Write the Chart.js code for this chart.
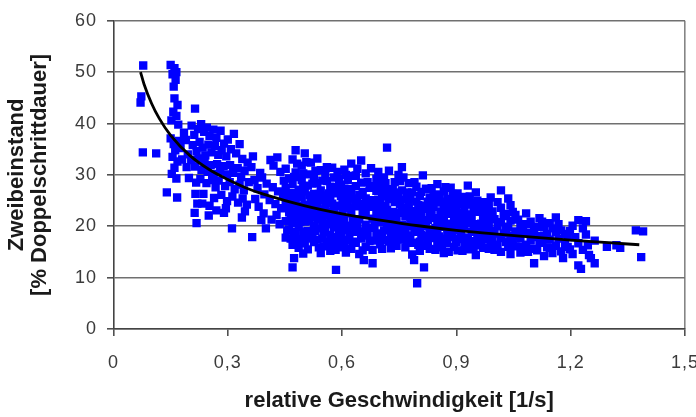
<!DOCTYPE html>
<html lang="de">
<head>
<meta charset="utf-8">
<title>Zweibeinstand vs. relative Geschwindigkeit</title>
<script src="https://cdn.jsdelivr.net/npm/chart.js@4/dist/chart.umd.min.js"></script>
<style>
  html, body { margin: 0; padding: 0; background: #fff; }
  #wrap { width: 696px; height: 417px; }
</style>
</head>
<body>
<div id="wrap"><canvas id="c" width="696" height="417"></canvas></div>
<script>
// Measured steps: [relative speed (1/s), double-support time (% of stride)]
const slowSteps = [
  [0.078,51.3],[0.071,44.1],[0.073,45.3],[0.077,34.4],[0.112,34.2],
  [0.150,51.4],[0.160,50.8],[0.155,49.6],[0.163,48.5],[0.158,47.2],[0.165,50.0],
  [0.160,44.9],[0.168,43.6],[0.157,42.3],[0.165,41.5],[0.152,40.6],[0.170,39.8],
  [0.214,42.9],
  [0.150,37.1],[0.158,36.0],[0.162,34.8],[0.155,33.5],[0.168,32.6],[0.160,31.4],
  [0.153,30.2],[0.165,29.3],[0.172,36.6],[0.176,35.2],[0.180,33.0],
  [0.140,26.6],[0.167,25.6],
  [0.185,38.2],[0.190,36.8],[0.195,34.0],[0.192,31.5],[0.198,29.4],
  [0.217,28.5],[0.215,26.3],[0.220,24.4],[0.213,22.6],[0.218,20.6],[0.250,22.1]
];

const lowSpeedCluster = [
  [0.205,39.6],[0.212,37.8],[0.222,38.9],[0.230,39.9],[0.238,38.4],[0.245,39.2],
  [0.252,37.6],[0.262,38.8],[0.270,37.2],[0.281,38.6],[0.316,38.0],[0.300,36.9],[0.290,36.1],
  [0.208,35.8],[0.218,34.6],[0.226,36.4],[0.234,35.3],[0.241,33.8],[0.249,35.9],
  [0.257,34.4],[0.266,35.6],[0.275,33.9],[0.284,34.8],[0.296,33.6],[0.308,35.0],
  [0.322,34.2],[0.331,36.0],[0.338,33.1],
  [0.204,32.9],[0.214,31.6],[0.223,33.2],[0.231,31.0],[0.239,32.3],[0.247,30.6],
  [0.255,31.9],[0.263,30.2],[0.272,32.1],[0.280,30.8],[0.289,31.7],[0.298,30.1],
  [0.306,31.9],[0.314,30.4],[0.326,31.3],[0.335,29.6],[0.344,30.8],[0.352,32.4],
  [0.228,29.2],[0.244,28.4],[0.259,29.0],[0.268,27.6],[0.276,28.9],[0.293,27.8],
  [0.305,28.6],[0.318,27.2],[0.331,28.1],[0.342,27.0],[0.355,28.6],
  [0.236,26.3],[0.264,25.5],[0.283,26.1],[0.298,24.9],[0.312,25.8],[0.327,24.6],
  [0.339,25.4],[0.350,24.2],
  [0.233,24.4],[0.252,24.0],[0.295,23.5],[0.290,22.6],[0.311,19.6],[0.337,21.7],
  [0.345,22.9],[0.364,17.9],[0.270,23.1]
];

const transitionSteps = [
  [0.362,31.5],[0.370,29.0],[0.378,27.4],[0.385,30.4],[0.390,29.5],[0.396,26.2],
  [0.402,28.3],[0.410,25.1],[0.418,27.6],[0.425,24.3],[0.432,26.8],[0.440,23.5],
  [0.447,28.9],[0.372,25.3],[0.381,23.8],[0.394,22.5],[0.400,19.6],[0.415,21.3],
  [0.428,22.2],[0.436,20.4],[0.445,25.9],[0.430,33.4],[0.438,30.6],[0.420,31.8],
  [0.366,33.6],[0.388,21.2],[0.412,32.9]
];

const midSpeedSteps = [
  [0.452,31.2],[0.452,27.4],[0.452,24.1],[0.452,21.0],[0.452,17.8],
  [0.461,29.3],[0.461,25.6],[0.461,22.7],[0.461,19.4],
  [0.470,33.0],[0.470,28.2],[0.470,26.5],[0.470,23.4],[0.470,20.6],[0.470,16.4],[0.470,12.0],
  [0.474,13.8],
  [0.478,34.8],[0.478,30.5],[0.478,24.8],[0.478,21.9],[0.478,18.7],
  [0.486,27.1],[0.486,23.0],[0.486,19.9],[0.486,15.8],
  [0.494,31.8],[0.494,29.0],[0.494,25.7],[0.494,22.3],[0.494,17.5],
  [0.502,34.2],[0.502,26.8],[0.502,24.2],[0.502,20.9],[0.502,16.7],
  [0.510,30.1],[0.510,27.9],[0.510,23.6],[0.510,19.1],[0.510,15.5],
  [0.518,32.4],[0.518,25.0],[0.518,21.8],[0.518,18.2],
  [0.526,29.6],[0.526,26.3],[0.526,22.9],[0.526,20.0],[0.526,16.9],
  [0.535,33.2],[0.535,28.4],[0.535,24.5],[0.535,21.3],[0.535,17.4],
  [0.544,30.9],[0.544,27.0],[0.544,23.3],[0.544,19.6],[0.544,14.8],
  [0.552,26.0],[0.552,22.1],[0.552,18.8],[0.552,16.1],
  [0.560,31.5],[0.560,28.8],[0.560,24.9],[0.560,20.4],[0.560,17.0],
  [0.569,27.7],[0.569,25.3],[0.569,21.6],[0.569,18.3],[0.569,15.2],
  [0.579,29.5],[0.579,26.4],[0.579,23.1],[0.579,19.8],[0.579,16.6],
  [0.584,11.5],
  [0.588,30.6],[0.588,24.0],[0.588,22.0],[0.588,17.9],
  [0.597,28.1],[0.597,25.9],[0.597,20.7],[0.597,18.5],[0.597,15.9],
  [0.606,31.0],[0.606,27.3],[0.606,23.7],[0.606,21.2],[0.606,16.3],
  [0.615,29.0],[0.615,24.6],[0.615,19.3],[0.615,17.2],
  [0.624,32.2],[0.624,26.7],[0.624,22.5],[0.624,20.1],[0.624,15.6],
  [0.636,29.9],[0.636,27.8],[0.636,23.9],[0.636,18.9],[0.636,16.8],
  [0.645,26.1],[0.645,21.4],[0.645,19.0],[0.645,14.6],
  [0.650,32.8],[0.650,28.5],[0.650,24.3],[0.650,17.6],
  [0.657,13.4],
  [0.662,30.3],[0.662,25.4],[0.662,22.2],[0.662,20.3],[0.662,16.0],
  [0.672,27.5],[0.672,23.8],[0.672,19.7],[0.672,17.1],
  [0.676,31.3],
  [0.680,12.8],[0.680,25.1],[0.680,21.5],[0.680,15.4],
  [0.690,29.2],[0.690,26.9],[0.690,22.8],[0.690,18.6],
  [0.700,28.0],[0.700,24.4],[0.700,20.8],[0.700,16.5],
  [0.710,29.5],[0.710,25.8],[0.710,22.4],[0.710,19.2],[0.710,17.3],
  [0.718,35.3],[0.718,27.2],[0.718,23.2],[0.718,20.5],
  [0.728,15.7],[0.728,26.2],[0.728,21.7],[0.728,18.4],
  [0.738,28.6],[0.738,24.7],[0.738,19.5],[0.738,16.9],
  [0.748,30.0],[0.748,25.5],[0.748,22.6],[0.748,18.0]
];

const fastSteps = [
  [0.757,31.5],[0.757,27.0],[0.757,23.6],[0.757,20.2],[0.757,17.4],
  [0.766,25.2],[0.766,21.9],[0.766,19.0],[0.766,15.9],
  [0.775,28.4],[0.775,24.3],[0.775,22.1],[0.775,18.2],
  [0.784,26.6],[0.784,23.0],[0.784,20.6],[0.784,16.8],[0.784,14.5],
  [0.789,13.4],[0.797,8.9],
  [0.795,27.7],[0.795,24.8],[0.795,21.4],[0.795,18.9],
  [0.804,25.9],[0.804,22.7],[0.804,19.6],[0.804,17.0],[0.804,15.2],
  [0.812,29.9],[0.812,24.0],[0.812,21.1],
  [0.815,12.0],
  [0.820,27.3],[0.820,23.4],[0.820,20.0],[0.820,18.1],[0.820,16.2],
  [0.830,25.6],[0.830,22.0],[0.830,19.3],[0.830,15.6],
  [0.840,26.0],[0.840,23.8],[0.840,21.6],[0.840,17.7],
  [0.850,28.2],[0.850,24.6],[0.850,20.9],[0.850,18.6],[0.850,16.4],
  [0.858,22.9],[0.858,19.9],[0.858,17.2],
  [0.867,26.8],[0.867,24.1],[0.867,21.3],[0.867,14.8],
  [0.876,25.3],[0.876,22.4],[0.876,18.8],[0.876,16.7],
  [0.885,27.5],[0.885,23.7],[0.885,20.5],[0.885,17.9],
  [0.894,24.9],[0.894,21.8],[0.894,19.5],[0.894,16.0],
  [0.903,26.4],[0.903,22.6],[0.903,20.2],[0.903,17.5],[0.903,15.3],
  [0.912,24.2],[0.912,21.0],[0.912,18.4],
  [0.921,25.7],[0.921,23.1],[0.921,19.7],[0.921,16.6],
  [0.930,27.9],[0.930,22.3],[0.930,20.7],[0.930,17.8],[0.930,15.5],
  [0.940,24.5],[0.940,21.5],[0.940,18.9],
  [0.951,26.6],[0.951,23.5],[0.951,20.4],[0.951,17.1],[0.951,14.4],
  [0.960,22.8],[0.960,19.4],[0.960,16.3],
  [0.970,24.7],[0.970,21.2],[0.970,18.3],[0.970,15.8],
  [0.980,23.3],[0.980,20.0],[0.980,17.4],
  [0.990,25.6],[0.990,22.0],[0.990,19.1],[0.990,16.5],
  [1.000,21.4],[1.000,18.6],[1.000,15.4],
  [1.017,27.0],[1.017,23.6],[1.017,20.8],[1.017,17.7],[1.017,15.0],
  [1.030,22.4],[1.030,19.6],[1.030,16.9],
  [1.042,24.1],[1.042,21.1],[1.042,18.2],[1.042,14.6]
];

const denseCore = [
  [0.456,26.0],[0.456,19.2],[0.465,24.4],[0.465,21.4],[0.465,17.6],
  [0.474,29.6],[0.474,22.5],[0.474,18.9],[0.482,32.2],[0.482,26.0],[0.482,17.2],
  [0.490,24.0],[0.490,20.8],[0.498,30.3],[0.498,27.8],[0.498,19.0],[0.498,14.7],
  [0.506,32.5],[0.506,22.4],[0.506,17.9],[0.514,26.0],[0.514,21.0],
  [0.522,28.3],[0.522,24.1],[0.522,17.6],[0.530,30.8],[0.530,25.5],[0.530,19.1],
  [0.539,26.3],[0.539,22.6],[0.539,15.9],[0.548,28.9],[0.548,25.1],[0.548,20.6],[0.548,17.6],
  [0.556,30.1],[0.556,23.5],[0.556,19.5],[0.565,26.4],[0.565,22.8],[0.565,16.5],
  [0.574,31.4],[0.574,24.4],[0.574,20.5],[0.574,17.8],[0.583,27.6],[0.583,21.2],[0.583,15.4],
  [0.592,29.2],[0.592,26.8],[0.592,19.3],[0.592,16.8],[0.601,24.7],[0.601,22.4],[0.601,17.3],
  [0.610,30.0],[0.610,25.8],[0.610,20.0],[0.610,14.9],[0.619,27.2],[0.619,23.5],[0.619,18.3],
  [0.629,29.8],[0.629,25.4],[0.629,21.3],[0.629,17.0],[0.640,31.2],[0.640,24.6],[0.640,20.4],
  [0.654,26.7],[0.654,22.9],[0.654,18.7],[0.654,15.3],[0.667,28.6],[0.667,24.3],[0.667,18.2],
  [0.685,27.8],[0.685,23.8],[0.685,20.0],[0.685,17.2],[0.695,30.6],[0.695,25.2],[0.695,21.6],
  [0.705,26.6],[0.705,23.5],[0.705,18.0],[0.705,15.6],[0.714,28.4],[0.714,24.0],[0.714,21.3],
  [0.723,30.8],[0.723,25.3],[0.723,19.6],[0.723,17.0],[0.733,27.2],[0.733,22.8],[0.733,20.6],
  [0.743,26.6],[0.743,21.0],[0.743,16.2],[0.752,28.8],[0.752,24.2],[0.752,19.4],
  [0.761,29.5],[0.761,22.8],[0.761,18.3],[0.770,26.6],[0.770,23.1],[0.770,20.0],[0.770,16.9],
  [0.779,25.4],[0.779,21.2],[0.779,17.4],[0.790,28.6],[0.790,22.7],[0.790,19.7],
  [0.800,24.1],[0.800,20.8],[0.800,16.4],[0.808,26.7],[0.808,22.6],[0.808,18.3],
  [0.825,24.8],[0.825,21.2],[0.825,17.0],[0.835,27.4],[0.835,23.2],[0.835,18.6],
  [0.845,25.3],[0.845,19.7],[0.845,15.4],[0.854,26.2],[0.854,21.6],[0.854,18.0],
  [0.862,24.8],[0.862,20.4],[0.862,15.9],[0.871,27.6],[0.871,22.9],[0.871,17.6],
  [0.880,24.2],[0.880,19.8],[0.880,15.0],[0.890,26.3],[0.890,22.6],[0.890,18.5],
  [0.899,23.8],[0.899,20.9],[0.899,16.9],[0.908,25.6],[0.908,19.3],
  [0.916,22.1],[0.916,17.8],[0.916,15.2],[0.925,24.2],[0.925,20.6],
  [0.935,25.8],[0.935,21.9],[0.935,16.7],[0.945,23.0],[0.945,19.9],[0.945,15.9],
  [0.955,25.0],[0.955,18.6],[0.965,23.8],[0.965,20.5],[0.965,17.1],
  [0.975,22.0],[0.975,18.8],[0.985,24.2],[0.985,20.6],[0.985,15.6],
  [0.995,22.9],[0.995,17.8],[1.008,24.7],[1.008,20.0],[1.008,16.4],
  [1.024,22.0],[1.024,18.6],[1.036,25.4],[1.036,19.9],[1.036,16.0],
  [1.048,22.8],[1.048,17.4]
];

const fastestSteps = [
  [1.055,22.2],[1.055,19.0],[1.055,16.1],
  [1.062,21.3],[1.062,18.2],
  [1.068,20.4],[1.068,17.6],[1.068,14.9],
  [1.075,19.6],[1.075,16.0],
  [1.083,22.5],[1.083,18.7],[1.083,16.4],
  [1.088,20.4],[1.088,15.0],
  [1.095,20.9],[1.095,17.2],
  [1.100,17.9],
  [1.104,12.8],[1.104,19.5],[1.104,15.6],
  [1.112,19.9],[1.112,15.3],
  [1.118,21.6],[1.118,18.1],[1.118,16.8],
  [1.125,20.9],[1.125,17.0],
  [1.130,19.8],[1.130,14.2],
  [1.138,18.5],[1.138,15.9],
  [1.145,20.6],[1.145,17.4],[1.145,15.8],
  [1.152,19.6],[1.152,14.8],
  [1.161,21.7],[1.161,18.9],[1.161,16.2],
  [1.168,17.6],[1.168,20.4],
  [1.175,19.2],[1.175,15.1],
  [1.180,13.8],
  [1.185,18.5],[1.185,16.6],
  [1.192,17.9],[1.192,16.0],
  [1.198,19.1],[1.198,15.5],
  [1.205,20.1],[1.205,14.6],
  [1.212,17.9],
  [1.220,21.2],[1.220,12.4],[1.220,16.7],
  [1.227,11.7],
  [1.232,15.4],[1.232,19.6],
  [1.240,21.0],[1.240,18.4],
  [1.245,16.3],
  [1.248,14.4],[1.253,13.8],
  [1.263,12.8],[1.263,17.2],
  [1.295,16.0],[1.320,16.3],[1.330,15.8],
  [1.371,19.2],[1.390,19.0],[1.385,14.0]
];

// Power-law trend line through the cloud
const trendSpeed = [0.071,0.08,0.10,0.12,0.15,0.20,0.25,0.30,0.35,0.40,0.50,0.60,0.70,0.80,0.90,1.00,1.10,1.20,1.30,1.38];
const trendValue = [50.0,47.7,43.9,41.0,37.7,33.8,31.1,29.1,27.4,26.1,24.0,22.4,21.2,20.1,19.2,18.5,17.9,17.3,16.8,16.4];

// Axis settings
const xTicks = [0, 0.3, 0.6, 0.9, 1.2, 1.5];
const yTicks = [0, 10, 20, 30, 40, 50, 60];
const xTitle = 'relative Geschwindigkeit [1/s]';
const yTitle = ['Zweibeinstand', '[% Doppelschrittdauer]'];

const toPoints = pairs => pairs.map(([x, y]) => ({ x, y }));
const allSteps = [].concat(slowSteps, lowSpeedCluster, transitionSteps, midSpeedSteps, fastSteps, denseCore, fastestSteps);
const trendPoints = trendSpeed.map((x, i) => ({ x, y: trendValue[i] }));

const fmt = v => String(Math.round(v * 10) / 10).replace('.', ',');
const tickFont = { family: "'Liberation Sans', Arial, sans-serif", size: 18 };
const titleFont = { family: "'Liberation Sans', Arial, sans-serif", size: 22, weight: 'bold', lineHeight: 1.05 };

// Tick numbers are drawn with slightly open tracking
function spaceTickLabels(scale) {
  if (scale._tracked) return;
  scale._tracked = true;
  const draw = scale.drawLabels;
  scale.drawLabels = function (area) {
    const ctx = this.ctx;
    ctx.save();
    ctx.letterSpacing = '1px';
    draw.call(this, area);
    ctx.restore();
  };
}

new Chart(document.getElementById('c'), {
  type: 'scatter',
  data: {
    datasets: [
      {
        label: 'Trend',
        data: trendPoints,
        showLine: true,
        borderColor: '#000',
        borderWidth: 2.8,
        pointRadius: 0,
        cubicInterpolationMode: 'monotone',
        order: 0
      },
      {
        label: 'Schritte',
        data: toPoints(allSteps),
        pointStyle: 'rect',
        pointRadius: 5.9,
        pointBorderWidth: 0,
        backgroundColor: '#0000ff',
        borderColor: '#0000ff',
        order: 1
      }
    ]
  },
  options: {
    responsive: false,
    animation: false,
    devicePixelRatio: 1,
    layout: { padding: { left: 0, right: 11, top: 20, bottom: 0 } },
    plugins: { legend: { display: false }, tooltip: { enabled: false } },
    scales: {
      x: {
        type: 'linear',
        min: 0,
        max: 1.5,
        afterBuildTicks: s => { s.ticks = xTicks.map(v => ({ value: v })); },
        afterFit: s => { s.height = 88; s.paddingLeft = 0; s.paddingRight = 0; spaceTickLabels(s); },
        ticks: { font: tickFont, color: '#3a3a3a', padding: 16, callback: v => fmt(v) },
        grid: {
          color: c => (c.tick && c.tick.value === 1.5 ? '#858585' : 'rgba(0,0,0,0)'),
          lineWidth: 1.6,
          tickColor: '#505050',
          tickLength: 7
        },
        border: { color: '#444', width: 1.6 },
        title: { display: true, text: xTitle, font: titleFont, color: '#1a1a1a', padding: { top: 0, bottom: 4.5 } }
      },
      y: {
        type: 'linear',
        min: 0,
        max: 60,
        afterBuildTicks: s => { s.ticks = yTicks.map(v => ({ value: v })); },
        afterFit: s => { s.width = 113.5; spaceTickLabels(s); },
        ticks: { font: tickFont, color: '#3a3a3a', padding: 10, callback: v => fmt(v) },
        grid: { color: '#707070', lineWidth: 1.6, tickColor: '#505050', tickLength: 6.5 },
        border: { color: '#444', width: 1.6 },
        title: { display: true, text: yTitle, font: titleFont, color: '#1a1a1a', padding: { top: 5.5, bottom: 0 } }
      }
    }
  }
});
</script>
</body>
</html>
